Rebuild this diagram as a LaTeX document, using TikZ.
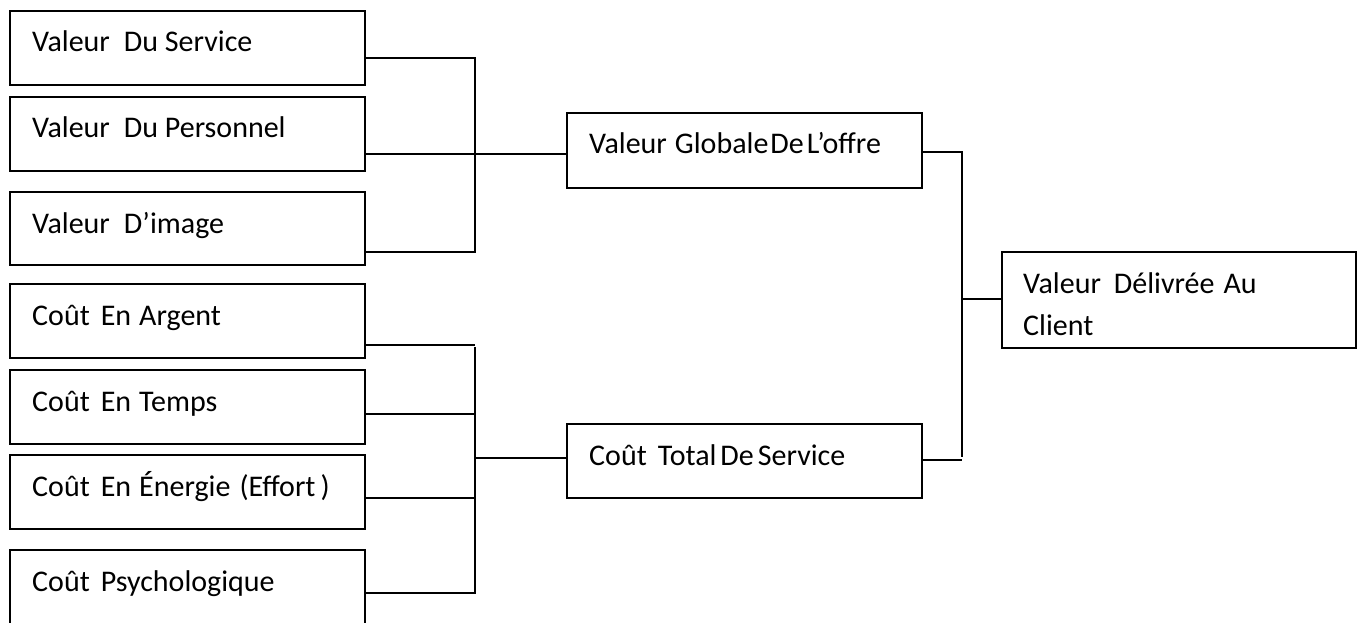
\documentclass[tikz,border=0pt]{standalone}
\usepackage{fontspec}
\setmainfont{Carlito}
\begin{document}
\begin{tikzpicture}[x=1pt,y=-1pt,
  box/.style={draw, line width=1.6pt, inner sep=0pt, outer sep=0pt, anchor=north west, minimum width=355pt},
  lbl/.style={anchor=base west, inner sep=0pt, font=\fontsize{30}{42}\selectfont},
  conn/.style={line width=1.6pt}]
\clip (0,0) rectangle (1362,622);
% left boxes (values)
\node[box, minimum height=74pt] (b1) at (10,11) {};
\node[box, minimum height=74pt] (b2) at (10,97) {};
\node[box, minimum height=73pt] (b3) at (10,192) {};
% left boxes (costs)
\node[box, minimum height=74pt] (b4) at (10,284) {};
\node[box, minimum height=74pt] (b5) at (10,370) {};
\node[box, minimum height=74pt] (b6) at (10,455) {};
\node[box, minimum height=90pt] (b7) at (10,550) {};
% middle boxes
\node[box, minimum height=75pt] (g1) at (567,113) {};
\node[box, minimum height=74pt] (c1) at (567,424) {};
% final box
\node[box, minimum height=96pt, minimum width=354pt] (f1) at (1002,252) {};
% labels
\node[lbl] (t1) at (32,51) {Valeur\hspace{14pt}Du Service};
\node[lbl] (t2) at (32,137) {Valeur\hspace{14pt}Du Personnel};
\node[lbl] (t3) at (32,233) {Valeur\hspace{14pt}D’image};
\node[lbl] (t4) at (32,325) {Coût\hspace{11pt}En\hspace{8pt}Argent};
\node[lbl] (t5) at (32,411) {Coût\hspace{11pt}En\hspace{8pt}Temps};
\node[lbl] (t6) at (32,496) {Coût\hspace{11pt}En\hspace{8pt}Énergie\hspace{9pt}(Effort\hspace{5pt})};
\node[lbl] (t7) at (32,591) {Coût\hspace{11pt}Psychologique};
\node[lbl] (tg) at (589,153) {Valeur\hspace{8pt}Globale\hspace{2pt}De\hspace{3pt}L’offre};
\node[lbl] (tc) at (589,465) {Coût\hspace{11pt}Total\hspace{4pt}De\hspace{4pt}Service};
\node[lbl] (tf1) at (1023,293) {Valeur\hspace{13pt}Délivrée\hspace{9pt}Au};
\node[lbl] (tf2) at (1023,335) {Client};
% connectors, value group
\coordinate (jv) at (475,154);
\draw[conn] ([yshift=-47pt]b1.north east) coordinate (p1) -- (p1 -| jv) -- ([yshift=-60pt]b3.north east -| jv) -- ([yshift=-60pt]b3.north east);
\draw[conn] ([yshift=-57pt]b2.north east) coordinate (p2) -- (p2 -| g1.west);
% connectors, cost group
\coordinate (jc) at (475,458);
\draw[conn] ([yshift=-61pt]b4.north east) coordinate (p4) -- (p4 -| jc) coordinate (q4);
\draw[conn] ([yshift=-2pt]q4) -- ([yshift=-43pt]b7.north east -| jc) -- ([yshift=-43pt]b7.north east);
\draw[conn] ([yshift=-44pt]b5.north east) coordinate (p5) -- (p5 -| jc);
\draw[conn] ([yshift=-43pt]b6.north east) coordinate (p6) -- (p6 -| jc);
\draw[conn] (jc) -- (jc -| c1.west);
% connectors, right side
\coordinate (jr) at (962,299);
\draw[conn] ([yshift=-39pt]g1.north east) coordinate (pg) -- (pg -| jr) -- ([yshift=-33pt]c1.north east -| jr);
\draw[conn] ([yshift=-36pt]c1.north east) coordinate (pc) -- (pc -| jr);
\draw[conn] (jr) -- (jr -| f1.west);
\end{tikzpicture}
\end{document}
